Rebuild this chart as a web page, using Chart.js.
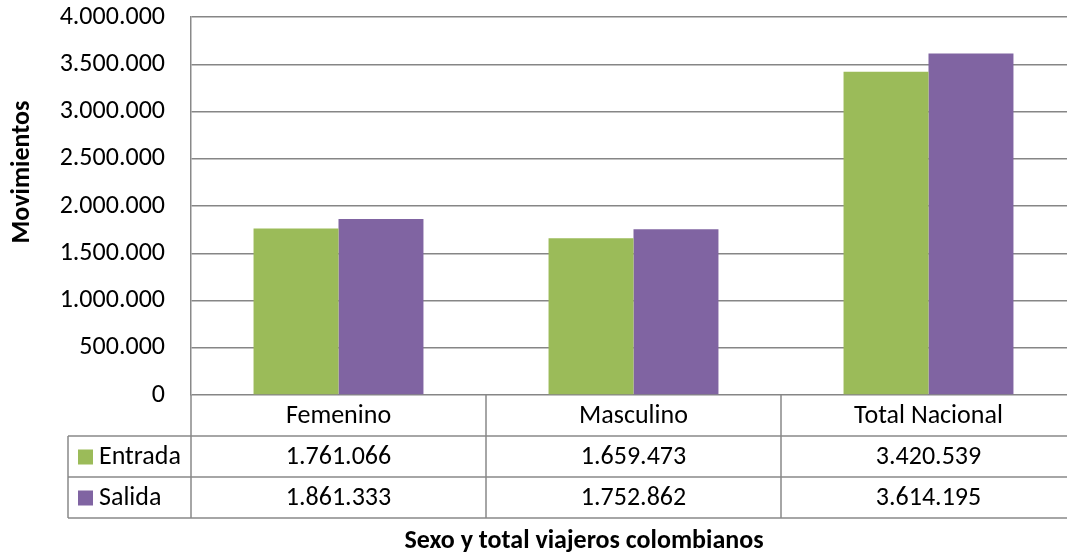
<!DOCTYPE html>
<html>
<head>
<meta charset="utf-8">
<script src="https://cdn.jsdelivr.net/npm/chart.js@4"></script>
<style>
  html, body { margin: 0; padding: 0; background: #fff; overflow: hidden; }
  #wrap { position: relative; width: 1110px; height: 556px; }
</style>
</head>
<body>
<div id="wrap"><canvas id="movChart"></canvas></div>
<script>
// Datos del gráfico
const categorias = ['Femenino', 'Masculino', 'Total Nacional'];
const entrada = [1761066, 1659473, 3420539];
const salida = [1861333, 1752862, 3614195];
const nombresSeries = ['Entrada', 'Salida'];
const coloresSeries = ['#9BBB59', '#8064A2'];
const tituloX = 'Sexo y total viajeros colombianos';
const tituloY = 'Movimientos';

const FUENTE = 'Carlito, Lato, sans-serif';
const TAM = 26;
const GRIS = '#898989';

// Formato con punto como separador de miles
function formatoMiles(v) {
  return String(Math.round(v)).replace(/\B(?=(\d{3})+(?!\d))/g, '.');
}

// Plugin que dibuja la tabla de datos bajo el eje y los títulos
const tablaDatos = {
  id: 'tablaDatos',
  afterDraw(chart) {
    const ctx = chart.ctx;
    const x = chart.scales.x;
    const area = chart.chartArea;
    const series = [entrada, salida];
    const filaAlto = 41;
    const y0 = area.bottom;
    const y1 = y0 + filaAlto;
    const y2 = y1 + filaAlto;
    const y3 = y2 + filaAlto;
    const izq = 68;
    const anchoCat = x.getPixelForValue(1) - x.getPixelForValue(0);

    ctx.save();
    ctx.strokeStyle = GRIS;
    ctx.lineWidth = 1.5;
    ctx.beginPath();
    // líneas horizontales
    [y1, y2, y3].forEach(yy => {
      ctx.moveTo(izq, yy);
      ctx.lineTo(area.right, yy);
    });
    ctx.moveTo(izq, y1);
    ctx.lineTo(izq, y3);
    // líneas verticales entre categorías
    for (let i = 0; i <= categorias.length; i++) {
      const px = x.getPixelForValue(0) - anchoCat / 2 + i * anchoCat;
      ctx.moveTo(px, y0);
      ctx.lineTo(px, y3);
    }
    ctx.stroke();

    ctx.fillStyle = '#000';
    ctx.font = TAM + 'px ' + FUENTE;
    ctx.textAlign = 'center';
    ctx.textBaseline = 'middle';
    categorias.forEach((c, i) => {
      const px = x.getPixelForValue(i);
      ctx.fillText(c, px, (y0 + y1) / 2 + 1);
      series.forEach((s, j) => {
        const yy = y1 + filaAlto * j + filaAlto / 2 + 1;
        ctx.fillText(formatoMiles(s[i]), px, yy);
      });
    });

    // leyenda en la columna izquierda
    ctx.textAlign = 'left';
    nombresSeries.forEach((n, j) => {
      const yy = y1 + filaAlto * j + filaAlto / 2;
      ctx.fillStyle = coloresSeries[j];
      ctx.fillRect(78, yy - 7, 15, 15);
      ctx.fillStyle = '#000';
      ctx.fillText(n, 99, yy + 1);
    });

    // títulos de ejes
    ctx.font = 'bold ' + TAM + 'px ' + FUENTE;
    ctx.textAlign = 'center';
    ctx.fillText(tituloX, 584, 541);
    ctx.translate(22, 172);
    ctx.rotate(-Math.PI / 2);
    ctx.fillText(tituloY, 0, 0);
    ctx.restore();
  }
};

new Chart(document.getElementById('movChart'), {
  type: 'bar',
  data: {
    labels: categorias,
    datasets: [
      { label: nombresSeries[0], data: entrada, backgroundColor: coloresSeries[0] },
      { label: nombresSeries[1], data: salida, backgroundColor: coloresSeries[1] }
    ]
  },
  options: {
    responsive: true,
    maintainAspectRatio: false,
    animation: false,
    devicePixelRatio: 1,
    layout: { padding: { top: 17, right: 34, bottom: 161, left: 0 } },
    datasets: { bar: { categoryPercentage: 0.576, barPercentage: 1 } },
    plugins: { legend: { display: false }, tooltip: { enabled: false } },
    scales: {
      x: { display: false },
      y: {
        min: 0,
        max: 4000000,
        afterFit(s) { s.width = 191; s.paddingTop = 0; s.paddingBottom = 0; },
        ticks: {
          stepSize: 500000,
          padding: 26,
          color: '#000',
          font: { family: FUENTE, size: TAM },
          callback: v => formatoMiles(v)
        },
        grid: { color: '#868686', lineWidth: 1.5, drawTicks: false },
        border: { display: true, color: GRIS, width: 1.5 }
      }
    }
  },
  plugins: [tablaDatos]
});
</script>
</body>
</html>
